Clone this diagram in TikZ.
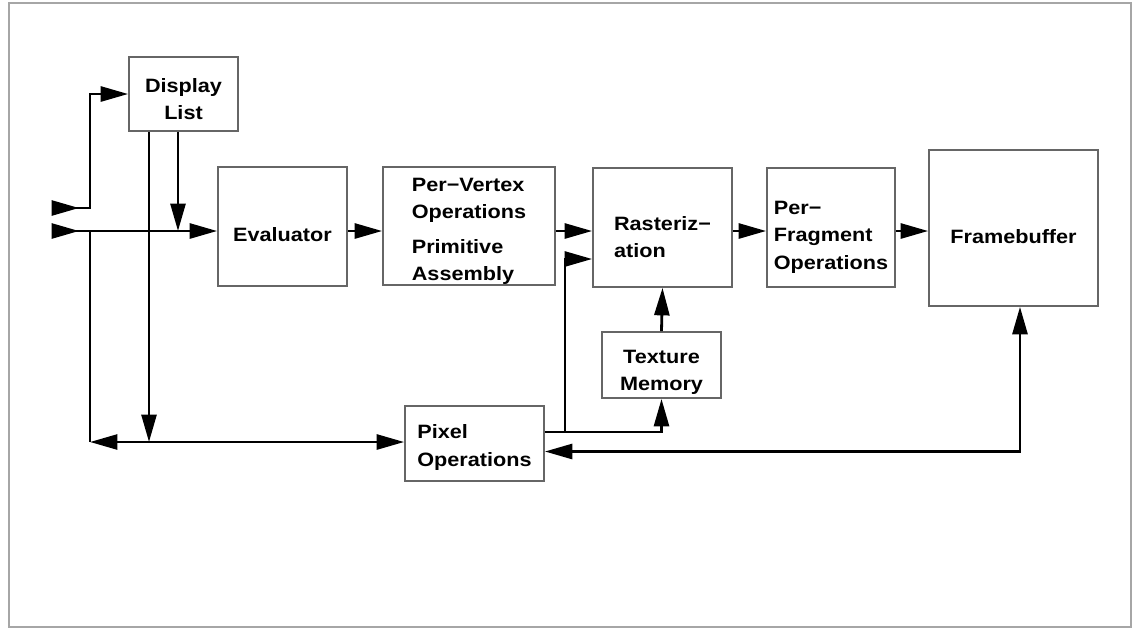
\documentclass[tikz,border=0pt]{standalone}
\usepackage{fontspec}
\setmainfont{Liberation Sans}[FakeStretch=1.12]
\usetikzlibrary{arrows.meta}
\newcommand{\lift}[1]{\rule{0pt}{#1}}

\begin{document}
\begin{tikzpicture}[x=0.02cm,y=-0.02cm,
    blk/.style={draw=black!60,line width=1pt,inner sep=2pt,
      font=\fontsize{11}{15.4}\selectfont\bfseries},
    con/.style={line width=1.6pt},
    tip/.style={con,-{Triangle[length=0.55cm,width=0.3cm]}},
    tips/.style={con,{Triangle[length=0.55cm,width=0.3cm]}-{Triangle[length=0.55cm,width=0.3cm]}}]
  \useasboundingbox (0,0) rectangle (1134,630);
  \draw[black!35,line width=1.2pt] (9,3) rectangle (1131,627);

  \node[blk,minimum width=2.18cm,minimum height=1.48cm,align=center] (dl)  at (183.5,94)   {\lift{0.48cm}Display\\List};
  \node[blk,minimum width=2.58cm,minimum height=2.38cm,align=center] (eval) at (282.5,226.5) {\lift{0.6cm}Evaluator};
  \node[blk,minimum width=3.44cm,minimum height=2.36cm,align=left,inner ysep=0pt] (pv) at (469,226) {\lift{0.48cm}Per−Vertex\\Operations\\[0.16cm]Primitive\\Assembly};
  \node[blk,minimum width=2.78cm,minimum height=2.38cm,align=left]   (ras) at (662.5,227.5) {\lift{0.66cm}Rasteriz−\\ation};
  \node[blk,minimum width=2.56cm,minimum height=2.38cm,align=left]   (pf)  at (831,227.5)  {\lift{0.66cm}Per−\\Fragment\\Operations};
  \node[blk,minimum width=3.38cm,minimum height=3.12cm,align=center] (fb)  at (1013.5,228) {\lift{0.64cm}Framebuffer};
  \node[blk,minimum width=2.38cm,minimum height=1.28cm,align=center] (tex) at (661.5,365)  {\lift{0.56cm}Texture\\Memory};
  \node[blk,minimum width=2.78cm,minimum height=1.5cm,align=left]    (pix) at (474.5,443.5) {\lift{0.44cm}Pixel\\Operations};

  \coordinate (in1) at (52,208);
  \coordinate (in2) at (52,231);
  \coordinate (bot) at (90,442);
  \coordinate (rx)  at (565,259);

  % inputs
  \draw[tip] (in1) -- ++(27,0);
  \draw[tip] (in1) -- (in1 -| bot) |- (dl.west);
  \draw[tip] (in2) -- ++(27,0);
  \draw[tip] (in2) -- (in2 -| eval.west);
  \draw[tip] ([xshift=-0.11cm]dl.south) -- ([xshift=-0.11cm]dl.south |- in2);
  \draw[tip] ([xshift=-0.69cm]dl.south) -- ([xshift=-0.69cm]dl.south |- bot);
  \draw[con] (in2 -| bot) -- (bot);
  \draw[tips] (bot) -- (bot -| pix.west);

  % main row
  \draw[tip] (in2 -| eval.east) -- (in2 -| pv.west);
  \draw[tip] (in2 -| pv.east) -- (in2 -| ras.west);
  \draw[tip] (in2 -| ras.east) -- (in2 -| pf.west);
  \draw[tip] (in2 -| pf.east) -- (in2 -| fb.west);

  % pixel path
  \draw[tip] ([yshift=0.23cm]pix.east -| rx) -- (rx) -- (rx -| ras.west);
  \draw[tip] ([yshift=0.23cm]pix.east) -| (tex.south);
  \draw[tip] (tex.north) -- (ras.south);
  \draw[tips] ([yshift=-0.16cm]pix.east) -| ([xshift=0.13cm]fb.south);
\end{tikzpicture}
\end{document}
